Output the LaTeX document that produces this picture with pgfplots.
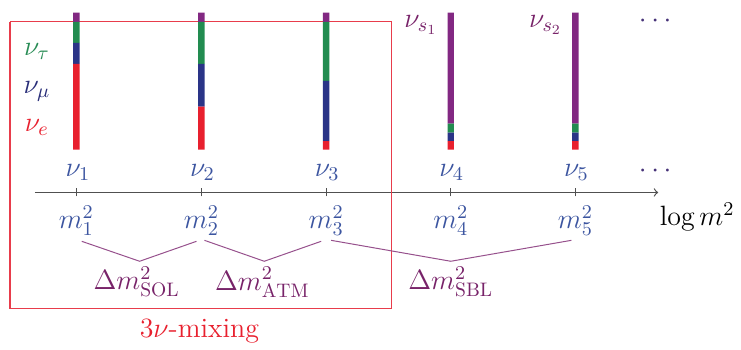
\RequirePackage{fix-cm}
\documentclass[border=0pt]{standalone}
\usepackage{fontspec}
\usepackage{pgfplots}
\pgfplotsset{compat=1.18}
\definecolor{nured}{RGB}{232,32,46}
\definecolor{nunavy}{RGB}{42,52,135}
\definecolor{nugreen}{RGB}{34,140,80}
\definecolor{nupurple}{RGB}{130,40,130}
\definecolor{lblblue}{RGB}{60,85,160}
\definecolor{lblgreen}{RGB}{40,140,85}
\definecolor{lblnavy}{RGB}{40,45,120}
\definecolor{lblpurple}{RGB}{120,35,105}
\definecolor{bracecol}{RGB}{150,80,140}
\definecolor{axiscol}{RGB}{80,80,80}
\definecolor{boxred}{RGB}{232,60,75}
\definecolor{dotcol}{RGB}{70,50,120}
\pgfplotsset{
  common/.style={
    width=312.5pt, height=174.5pt, scale only axis,
    xmin=35, xmax=660, ymin=-156, ymax=193,
    enlargelimits=false, clip=false,
  }
}
\begin{document}
\begin{tikzpicture}[font=\fontsize{14}{17}\selectfont]
\begin{axis}[common,
  axis x line*=middle, axis y line=none,
  x axis line style={axiscol, line width=0.6pt, -to},
  xtick={76.5,202,327,452,577},
  xticklabels={$m_1^2$,$m_2^2$,$m_3^2$,$m_4^2$,$m_5^2$},
  xticklabel style={lblblue, font=\fontsize{14}{17}\selectfont, yshift=-1pt},
  major tick length=4pt, tick align=center,
  tick style={axiscol, line width=0.5pt},
  ytick=\empty,
]
% invisible frame for the page size
\addplot[draw=none] coordinates {(0,-156) (741,193)};
% 3nu-mixing box
\addplot[boxred, line width=0.55pt] coordinates {(10,171.3) (393,171.3) (393,-116) (10,-116) (10,171.3)};
% mass-splitting braces
\addplot[bracecol, line width=0.5pt] coordinates {(82,-49) (140,-69) (197,-49)};
\addplot[bracecol, line width=0.5pt] coordinates {(205,-48) (265,-69) (322,-49)};
\addplot[bracecol, line width=0.5pt] coordinates {(332,-48) (452,-69) (573,-48)};
% labels
\node[lblblue] at (axis cs:78,20) {$\nu_1$};
\node[lblblue] at (axis cs:203,20) {$\nu_2$};
\node[lblblue] at (axis cs:328,20) {$\nu_3$};
\node[lblblue] at (axis cs:453,20) {$\nu_4$};
\node[lblblue] at (axis cs:578,20) {$\nu_5$};
\node[lblpurple] at (axis cs:422,168) {$\nu_{s_1}$};
\node[lblpurple] at (axis cs:547,168) {$\nu_{s_2}$};
\node[dotcol] at (axis cs:657,172) {$\cdots$};
\node[dotcol] at (axis cs:657,21) {$\cdots$};
\node[lblgreen] at (axis cs:37,141) {$\nu_\tau$};
\node[lblnavy] at (axis cs:37,101) {$\nu_\mu$};
\node[nured] at (axis cs:37,65) {$\nu_e$};
\node at (axis cs:699,-25) {$\log m^2$};
\node[lblpurple] at (axis cs:137,-90) {$\Delta m^2_{\mathrm{SOL}}$};
\node[lblpurple] at (axis cs:263,-90) {$\Delta m^2_{\mathrm{ATM}}$};
\node[lblpurple] at (axis cs:452,-90) {$\Delta m^2_{\mathrm{SBL}}$};
\node[nured] at (axis cs:200,-139) {$3\nu$-mixing};
\end{axis}
\begin{axis}[common, hide axis, ybar stacked, bar width=6.5]
% invisible base (bars start at the level of the nu_i labels)
\addplot[draw=none, fill=none] coordinates {(76.5,43) (202,43) (327,43) (452,43) (577,43)};
% nu_e
\addplot[draw=none, fill=nured] coordinates {(76.5,86) (202,43) (327,8.5) (452,8.5) (577,8.5)};
% nu_mu
\addplot[draw=none, fill=nunavy] coordinates {(76.5,21) (202,43) (327,60.5) (452,8.5) (577,8.5)};
% nu_tau
\addplot[draw=none, fill=nugreen] coordinates {(76.5,21) (202,42) (327,59) (452,9) (577,9)};
% sterile
\addplot[draw=none, fill=nupurple] coordinates {(76.5,9.3) (202,9.3) (327,9.3) (452,111.3) (577,111.3)};
\end{axis}
\end{tikzpicture}
\end{document}
